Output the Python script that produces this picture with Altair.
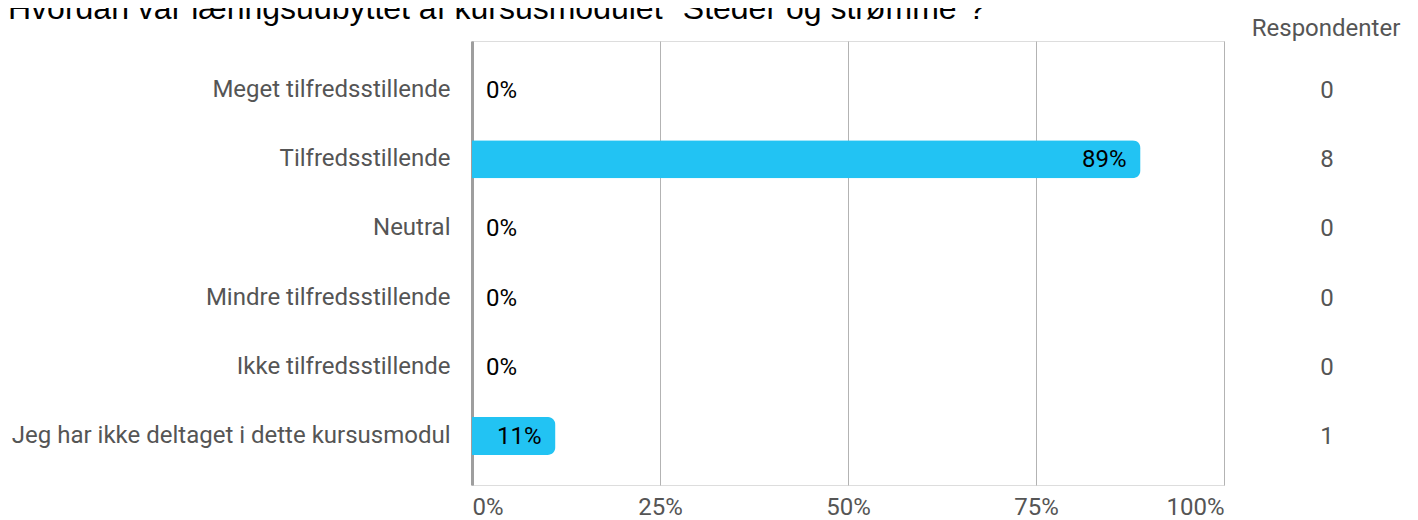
import altair as alt
import pandas as pd

categories = [
    "Meget tilfredsstillende",
    "Tilfredsstillende",
    "Neutral",
    "Mindre tilfredsstillende",
    "Ikke tilfredsstillende",
    "Jeg har ikke deltaget i dette kursusmodul",
]
percents = [0, 88.9, 0, 0, 0, 11.1]
labels = ["0%", "89%", "0%", "0%", "0%", "11%"]
respondents = [0, 8, 0, 0, 0, 1]
x_ticks = [0, 25, 50, 75, 100]
title_text = "Hvordan var læringsudbyttet af kursusmodulet \"Steder og strømme\"?"
header_text = "Respondenter"

df = pd.DataFrame({
    "cat": categories,
    "pct": percents,
    "label": labels,
    "resp": respondents,
})

W = 752
H = 444
FONT = "Roboto"
FS = 24
BAR = "#22C3F3"

y_enc = alt.Y(
    "cat:N",
    sort=categories,
    title=None,
    scale=alt.Scale(paddingInner=0.45, paddingOuter=0.433),
    axis=alt.Axis(
        ticks=False,
        domain=True,
        domainColor="#9e9e9e",
        domainWidth=3,
        labelFont=FONT,
        labelFontSize=FS,
        labelColor="#555555",
        labelPadding=22,
        labelLimit=600,
        grid=False,
    ),
)

x_enc = alt.X(
    "pct:Q",
    title=None,
    scale=alt.Scale(domain=[0, 100], nice=False),
    axis=alt.Axis(
        values=x_ticks,
        labelExpr="datum.value + '%'",
        grid=True,
        gridColor="#b3b3b3",
        gridWidth=1,
        domain=False,
        ticks=False,
        labelFont=FONT,
        labelFontSize=FS,
        labelColor="#555555",
        labelPadding=10,
        labelFlush=True,
    ),
)

base = alt.Chart(df)

bars = base.mark_bar(color=BAR, cornerRadiusEnd=8).encode(x=x_enc, y=y_enc)

pos_text = base.transform_filter("datum.pct > 0").mark_text(
    align="right", dx=-14, dy=1, font=FONT, fontSize=FS, color="#000000"
).encode(x="pct:Q", y=alt.Y("cat:N", sort=categories), text="label:N")

zero_text = base.transform_filter("datum.pct <= 0").mark_text(
    align="left", dx=14, dy=1, font=FONT, fontSize=FS, color="#000000"
).encode(x="pct:Q", y=alt.Y("cat:N", sort=categories), text="label:N")

resp_text = base.mark_text(
    align="center", dy=1, font=FONT, fontSize=FS, color="#555555"
).encode(x=alt.value(855), y=alt.Y("cat:N", sort=categories), text="resp:Q")

header = alt.Chart(pd.DataFrame({"t": [header_text]})).mark_text(
    align="center", baseline="middle", font=FONT, fontSize=FS, color="#555555"
).encode(x=alt.value(854), y=alt.value(-12), text="t:N")

title = alt.Chart(pd.DataFrame({"t": [title_text]})).mark_text(
    align="left", baseline="alphabetic", font="Liberation Sans Narrow, Liberation Sans",
    fontSize=32, color="#000000"
).encode(x=alt.value(-464), y=alt.value(-22), text="t:N")

chart = alt.layer(bars, pos_text, zero_text, resp_text, header, title).properties(
    width=W,
    height=H,
    autosize=alt.AutoSizeParams(type="none"),
    padding={"left": 464, "top": 33, "right": 186, "bottom": 34},
).configure_view(stroke=None).configure(background="white")

chart.save("out.html", embed_options={"renderer": "svg", "actions": False})
